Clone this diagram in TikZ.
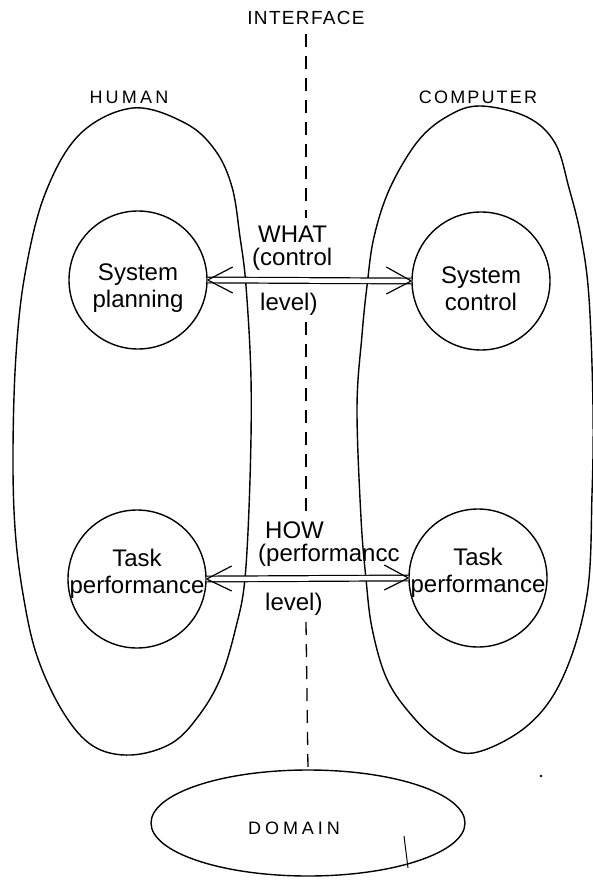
\documentclass[tikz,border=0pt]{standalone}
\usepackage{fontspec}
\setmainfont{Liberation Sans}
\usetikzlibrary{shapes.geometric}
\begin{document}
\begin{tikzpicture}[x=1pt,y=-1pt,
  stroke/.style={line width=1.4pt},
  circ/.style={circle,draw,line width=1.4pt,minimum size=138pt,inner sep=0pt},
  bigtxt/.style={font=\fontsize{24}{27}\selectfont,inner sep=0pt,align=center},
  captxt/.style={font=\fontsize{18}{22}\selectfont,inner sep=0pt},
  iface/.style={line width=1.3pt,dash pattern=on 13pt off 9pt},
  dbl/.style={line width=1.2pt,double,double distance=4.5pt},
  barb/.style={line width=1.2pt}]
\useasboundingbox (0,0) rectangle (593,882);

% the two agents
\draw[stroke] plot[smooth cycle,tension=0.6] coordinates {
  (133,108) (185,123) (215,150) (232,187) (240,237) (246,286) (251,379)
  (250,479) (245,578) (236,627) (221,677) (200,714) (172,743) (131,755)
  (93,746) (63,712) (37,656) (23,594) (15,528) (13,450) (16,355)
  (25,274) (45,194) (80,134)};
\draw[stroke] plot[smooth cycle,tension=0.6] coordinates {
  (480,106) (527,117) (555,143) (569,188) (581,237) (589,298) (593,408)
  (592,494) (587,595) (563,677) (527,726) (473,753) (438,740) (408,711)
  (386,677) (372,628) (366,579) (361,518) (357,408) (362,335) (367,286)
  (374,237) (390,188) (418,141) (448,116)};

\node[captxt] (human) at (129,97) {\addfontfeature{LetterSpace=18}HUMAN};
\node[captxt] (computer) at (478,97) {\addfontfeature{LetterSpace=12}COMPUTER};
\node[captxt,font=\fontsize{19}{22}\selectfont] (iface) at (306,18) {\addfontfeature{LetterSpace=7}INTERFACE};

% inner activities
\node[circ] (plan) at (138,280) {};
\node[circ] (ctrl) at (481,281) {};
\node[circ] (htask) at (137,579) {};
\node[circ] (ctask) at (478,578) {};
\node[bigtxt,yshift=-8pt] at (plan) {System\\planning};
\node[bigtxt,yshift=-8pt] at (ctrl) {System\\control};
\node[bigtxt,yshift=5pt] at (htask) {Task\\performance};
\node[bigtxt,yshift=5pt] at (ctask) {Task\\performance};

% level labels
\node[bigtxt,anchor=west] (what) at (258,234) {WHAT};
\node[bigtxt,anchor=west] (ctl) at (252,259) {(control};
\node[bigtxt,anchor=west] (lv1) at (260,304) {level)};
\node[bigtxt,anchor=west] (how) at (265,530) {HOW};
\node[bigtxt,anchor=west] (perf) at (258,555) {(performancc};
\node[bigtxt,anchor=west] (lv2) at (265,604) {level)};

% double arrows between the levels
\draw[dbl] (plan.east) -- (ctrl.west);
\draw[barb] (plan.east) -- ++(25,-13) (plan.east) -- ++(25,13);
\draw[barb] (ctrl.west) -- ++(-25,-14) (ctrl.west) -- ++(-25,13);
\draw[dbl] (htask.east) -- (ctask.west);
\draw[barb] (htask.east) -- ++(25,-13) (htask.east) -- ++(25,12);
\draw[barb] (ctask.west) -- ++(-24,-13) (ctask.west) -- ++(-24,12);

% domain
\node[ellipse,draw,line width=1.4pt,minimum width=314pt,minimum height=106pt,inner sep=0pt] (domain) at (308,823) {};
\node[captxt] (dtext) at (294,828) {\addfontfeature{LetterSpace=22}DOMAIN};
\coordinate (tickA) at (404,836);
\coordinate (tickB) at (408,868);
\draw[line width=1pt] (tickA) -- (tickB);
\fill (541,776) circle (1.3pt);

% interface line
\coordinate (i1) at (306,34);
\coordinate (i2) at (306,218);
\coordinate (i3) at (306,322);
\coordinate (i4) at (306,512);
\coordinate (i5) at (306,622);
\draw[iface] (i1) -- (i2);
\draw[iface] (i3) -- (i4);
\draw[iface] (i5) -- (domain.north);
\end{tikzpicture}
\end{document}
